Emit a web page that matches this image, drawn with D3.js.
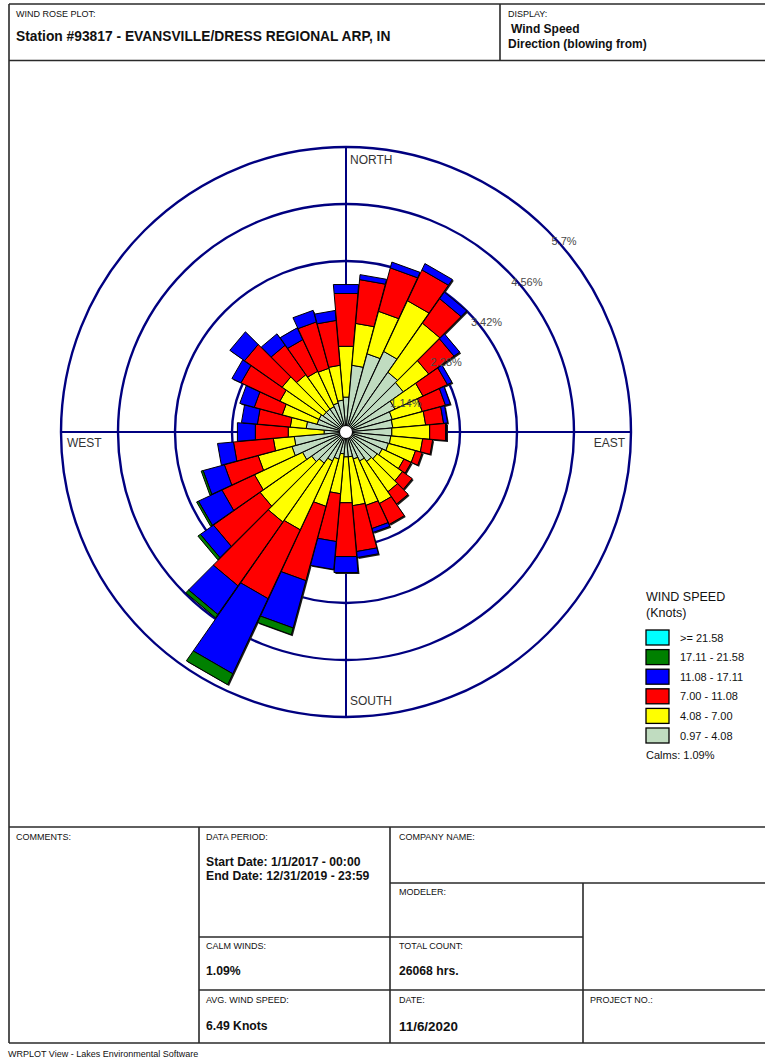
<!DOCTYPE html>
<html>
<head>
<meta charset="utf-8">
<script src="https://cdn.jsdelivr.net/npm/d3@7/dist/d3.min.js"></script>
<style>
  html, body { margin: 0; padding: 0; background: #fff; }
  svg { display: block; font-family: "Liberation Sans", Arial, sans-serif; }
</style>
</head>
<body>
<svg id="page" width="765" height="1059"></svg>
<script>
// Direction sectors (degrees, blowing from), 10-degree bins
const directions = [0, 10, 20, 30, 40, 50, 60, 70, 80, 90, 100, 110,
  120, 130, 140, 150, 160, 170, 180, 190, 200, 210, 220, 230,
  240, 250, 260, 270, 280, 290, 300, 310, 320, 330, 340, 350];

// Frequency (%) of each wind speed class per direction
const freq_097_408 = [0.70, 1.34, 1.62, 1.78, 1.46, 1.40, 1.08, 0.96, 0.94, 0.92, 0.90, 0.88,
  0.80, 0.76, 0.72, 0.64, 0.56, 0.50, 0.50, 0.44, 0.56, 0.64, 0.76, 0.84,
  0.96, 1.12, 1.04, 0.44, 0.80, 0.60, 0.60, 0.56, 0.56, 0.56, 0.60, 0.64];
const freq_408_700 = [1.02, 0.84, 0.88, 1.12, 1.20, 0.62, 0.62, 0.62, 0.66, 0.76, 0.64, 0.56,
  0.48, 0.62, 0.74, 0.94, 0.96, 0.98, 0.92, 0.80, 0.98, 1.52, 1.44, 1.26,
  1.06, 0.70, 0.42, 0.72, 0.32, 0.72, 0.86, 1.00, 0.84, 0.78, 0.72, 0.70];
const freq_700_1108 = [1.06, 0.88, 0.90, 0.68, 0.60, 0.62, 0.54, 0.48, 0.36, 0.32, 0.20, 0.14,
  0.16, 0.24, 0.30, 0.46, 0.48, 0.92, 1.08, 0.96, 1.54, 1.52, 1.56, 1.14,
  0.72, 0.70, 0.80, 0.66, 0.66, 0.58, 0.86, 0.92, 0.72, 0.70, 0.96, 0.90];
const freq_1108_1711 = [0.18, 0.10, 0.12, 0.14, 0.16, 0.14, 0.10, 0.10, 0.08, 0.02, 0.00, 0.00,
  0.00, 0.00, 0.00, 0.00, 0.08, 0.12, 0.32, 0.56, 0.98, 1.66, 0.70, 0.32,
  0.52, 0.44, 0.32, 0.36, 0.32, 0.30, 0.20, 0.36, 0.28, 0.26, 0.24, 0.20];
const freq_1711_2158 = [0, 0, 0, 0, 0, 0, 0, 0, 0, 0, 0, 0,
  0, 0, 0, 0, 0, 0, 0, 0, 0.14, 0.24, 0.08, 0.06,
  0.04, 0.04, 0, 0, 0, 0, 0, 0, 0, 0, 0, 0];
const freq_ge_2158 = [0, 0, 0, 0, 0, 0, 0, 0, 0, 0, 0, 0,
  0, 0, 0, 0, 0, 0, 0, 0, 0, 0, 0, 0,
  0, 0, 0, 0, 0, 0, 0, 0, 0, 0, 0, 0];

// Speed classes, lowest first
const speedClasses = ["0.97 - 4.08", "4.08 - 7.00", "7.00 - 11.08", "11.08 - 17.11", "17.11 - 21.58", ">= 21.58"];
const classColors = ["#c0dcc0", "#ffff00", "#ff0000", "#0000ff", "#008000", "#00ffff"];
const classSeries = [freq_097_408, freq_408_700, freq_700_1108, freq_1108_1711, freq_1711_2158, freq_ge_2158];

// Radial rings
const ringValues = [1.14, 2.28, 3.42, 4.56, 5.7];
const ringLabels = ["1.14%", "2.28%", "3.42%", "4.56%", "5.7%"];

const compassLabels = ["NORTH", "EAST", "SOUTH", "WEST"];
const calmsText = "Calms: 1.09%";

const svg = d3.select("#page");
const font = "'Liberation Sans', Arial, sans-serif";

// ---------- page frame ----------
const frame = svg.append("g").attr("stroke", "#2a2a2a").attr("stroke-width", 1.6).attr("fill", "none");
const hline = (x1, x2, y) => frame.append("line").attr("x1", x1).attr("x2", x2).attr("y1", y).attr("y2", y);
const vline = (x, y1, y2) => frame.append("line").attr("x1", x).attr("x2", x).attr("y1", y1).attr("y2", y2);
hline(9, 765, 4);
hline(9, 765, 60.5);
vline(9, 4, 1043);
vline(500, 4, 60);
hline(9, 765, 827);
hline(390, 765, 883);
hline(199, 583, 937);
hline(199, 765, 990);
hline(9, 765, 1043);
vline(199, 827, 1043);
vline(390, 827, 1043);
vline(583, 883, 1043);

function txt(x, y, s, size, weight, anchor) {
  return svg.append("text").attr("x", x).attr("y", y).text(s)
    .attr("font-size", size).attr("font-weight", weight || "normal")
    .attr("text-anchor", anchor || "start").attr("fill", "#111").attr("font-family", font);
}

// header
txt(16, 17, "WIND ROSE PLOT:", 9);
txt(16, 41, "Station #93817 - EVANSVILLE/DRESS REGIONAL ARP, IN", 13.8, "bold");
txt(508, 17, "DISPLAY:", 9);
txt(511, 33, "Wind Speed", 12, "bold");
txt(508, 48, "Direction (blowing from)", 12, "bold");

// info table
txt(16, 840, "COMMENTS:", 9);
txt(206, 840, "DATA PERIOD:", 9);
txt(206, 866, "Start Date: 1/1/2017 - 00:00", 12.2, "bold");
txt(206, 880, "End Date: 12/31/2019 - 23:59", 12.2, "bold");
txt(399, 840, "COMPANY NAME:", 9);
txt(399, 895, "MODELER:", 9);
txt(206, 949, "CALM WINDS:", 9);
txt(206, 975, "1.09%", 12.2, "bold");
txt(399, 949, "TOTAL COUNT:", 9);
txt(399, 975, "26068 hrs.", 12.2, "bold");
txt(206, 1003, "AVG. WIND SPEED:", 9);
txt(206, 1030, "6.49 Knots", 12.2, "bold");
txt(399, 1003, "DATE:", 9);
txt(399, 1031, "11/6/2020", 13.4, "bold");
txt(590, 1003, "PROJECT NO.:", 9);
txt(8, 1057, "WRPLOT View - Lakes Environmental Software", 9);

// ---------- wind rose ----------
const cx = 346, cy = 432;
const r = d3.scaleLinear().domain([0, 5.7]).range([0, 285]);
const ang = d3.scaleLinear().domain([0, 360]).range([0, 2 * Math.PI]);
const halfWidth = ang(4.9);

const pt = (rad, a) => [cx + rad * Math.sin(a), cy - rad * Math.cos(a)];
const lineGen = d3.line().curve(d3.curveLinearClosed);
function wedge(r0, r1, a) {
  return lineGen([pt(r0, a - halfWidth), pt(r1, a - halfWidth), pt(r1, a + halfWidth), pt(r0, a + halfWidth)]);
}

const rose = svg.append("g");

// rings and axes
rose.selectAll("circle.ring").data(ringValues).enter().append("circle")
  .attr("class", "ring").attr("cx", cx).attr("cy", cy).attr("r", d => r(d))
  .attr("fill", "none").attr("stroke", "#000080").attr("stroke-width", 2.4);
const rMax = r(d3.max(ringValues));
rose.append("line").attr("x1", cx).attr("x2", cx).attr("y1", cy - rMax).attr("y2", cy + rMax)
  .attr("stroke", "#000080").attr("stroke-width", 2);
rose.append("line").attr("x1", cx - rMax).attr("x2", cx + rMax).attr("y1", cy).attr("y2", cy)
  .attr("stroke", "#000080").attr("stroke-width", 2);

// stacked segments
const stacks = directions.map((dir, i) => {
  let acc = 0;
  const segs = classSeries.map((s, k) => {
    const seg = { dir, k, v0: acc, v1: acc + s[i] };
    acc += s[i];
    return seg;
  }).filter(d => d.v1 > d.v0);
  return { dir, total: acc, segs };
});

// soft shadow under each bar
rose.selectAll("path.shadow").data(stacks).enter().append("path")
  .attr("class", "shadow")
  .attr("d", d => wedge(0, r(d.total), ang(d.dir)))
  .attr("transform", "translate(1.4,1.4)")
  .attr("fill", "#1a1a1a");

const bars = rose.selectAll("g.bar").data(stacks).enter().append("g").attr("class", "bar");
bars.selectAll("path").data(d => d.segs).enter().append("path")
  .attr("d", d => wedge(r(d.v0), r(d.v1), ang(d.dir)))
  .attr("fill", d => classColors[d.k])
  .attr("stroke", "#000").attr("stroke-width", 1).attr("stroke-linejoin", "round");

// calm circle
rose.append("circle").attr("cx", cx).attr("cy", cy).attr("r", 6.5)
  .attr("fill", "#fff").attr("stroke", "#000").attr("stroke-width", 1);

// ring labels along the 45-degree line
rose.selectAll("text.ringlab").data(ringValues).enter().append("text")
  .attr("class", "ringlab")
  .attr("x", d => cx + r(d) * Math.SQRT1_2 + 4)
  .attr("y", d => cy - r(d) * Math.SQRT1_2 + 15)
  .text((d, i) => ringLabels[i])
  .attr("font-size", 11).attr("fill", "#4a4a4a").attr("font-family", font);

// compass labels
txt(cx + 4, cy - rMax + 17, compassLabels[0], 12).attr("fill", "#333");
txt(cx + rMax - 6, cy + 15, compassLabels[1], 12, "normal", "end").attr("fill", "#333");
txt(cx + 4, cy + rMax - 12, compassLabels[2], 12).attr("fill", "#333");
txt(cx - rMax + 6, cy + 15, compassLabels[3], 12).attr("fill", "#333");

// ---------- legend ----------
const lg = svg.append("g");
txt(646, 601, "WIND SPEED", 12.5);
txt(646, 617, "(Knots)", 12.5);
const legendOrder = d3.range(speedClasses.length).reverse();
const ly = d3.scalePoint().domain(legendOrder).range([630, 728]);
lg.selectAll("rect").data(legendOrder).enter().append("rect")
  .attr("x", 646).attr("y", d => ly(d)).attr("width", 23).attr("height", 15)
  .attr("fill", d => classColors[d]).attr("stroke", "#000").attr("stroke-width", 1.3);
lg.selectAll("text").data(legendOrder).enter().append("text")
  .attr("x", 680).attr("y", d => ly(d) + 11.5)
  .text(d => speedClasses[d])
  .attr("font-size", 11).attr("fill", "#111").attr("font-family", font);
txt(646, 759, calmsText, 11);
</script>
</body>
</html>
